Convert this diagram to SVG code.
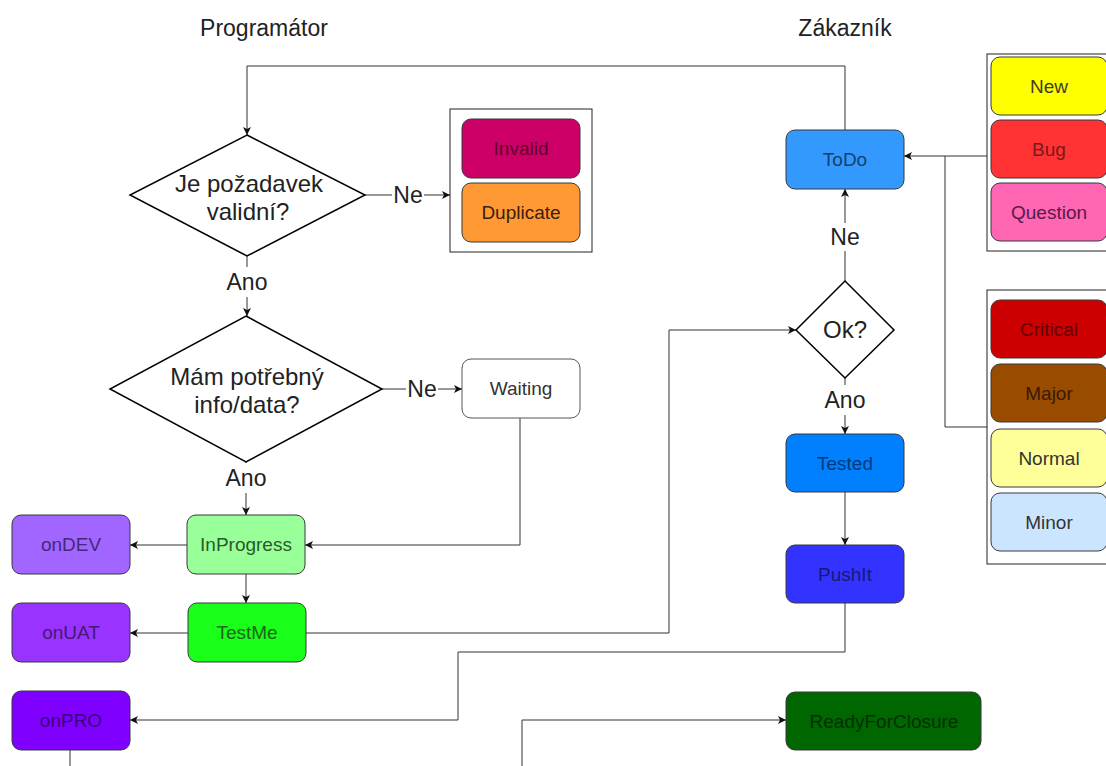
<svg xmlns="http://www.w3.org/2000/svg" width="1106" height="766" viewBox="0 0 1106 766">
  <style>
    .bg { fill: #ffffff; }
    .node { stroke: #36393d; stroke-width: 1; }
    .frame { fill: #ffffff; stroke: #222222; stroke-width: 1; }
    .dia { fill: #ffffff; stroke: #000000; stroke-width: 1.5; }
    .lbl { font-family: "Liberation Sans", Arial, sans-serif; font-size: 19px; text-anchor: middle; dominant-baseline: central; }
    .big { font-family: "Liberation Sans", Arial, sans-serif; font-size: 24px; text-anchor: middle; fill: #222222; }
    .title { font-family: "Liberation Sans", Arial, sans-serif; font-size: 23px; text-anchor: middle; fill: #222222; }
    .edge { fill: none; stroke: #333333; stroke-width: 1; }
    .tag { font-family: "Liberation Sans", Arial, sans-serif; font-size: 23px; text-anchor: middle; fill: #222222; }
  </style>
  <defs>
    <marker id="arrow" markerUnits="userSpaceOnUse" markerWidth="10" markerHeight="10" refX="8" refY="4" orient="auto">
      <path d="M0,0 L8,4 L0,8 L2,4 Z" fill="#111111"/>
    </marker>
  </defs>

  <rect class="bg" x="0" y="0" width="1106" height="766"/>

  <!-- lane titles -->
  <text class="title" x="264" y="36">Programátor</text>
  <text class="title" x="845" y="36">Zákazník</text>

  <!-- connectors -->
  <g id="connectors">
    <polyline class="edge" points="845,130 845,66 247,66 247,135" marker-end="url(#arrow)"/>
    <line class="edge" x1="365" y1="195" x2="450" y2="195" marker-end="url(#arrow)"/>
    <line class="edge" x1="247" y1="256" x2="247" y2="316" marker-end="url(#arrow)"/>
    <line class="edge" x1="382" y1="389" x2="462" y2="389" marker-end="url(#arrow)"/>
    <line class="edge" x1="246" y1="462" x2="246" y2="515" marker-end="url(#arrow)"/>
    <polyline class="edge" points="520,418 520,545 305,545" marker-end="url(#arrow)"/>
    <line class="edge" x1="187" y1="545" x2="130" y2="545" marker-end="url(#arrow)"/>
    <line class="edge" x1="246" y1="574" x2="246" y2="603" marker-end="url(#arrow)"/>
    <line class="edge" x1="188" y1="633" x2="130" y2="633" marker-end="url(#arrow)"/>
    <polyline class="edge" points="305,633 669,633 669,330 796,330" marker-end="url(#arrow)"/>
    <line class="edge" x1="845" y1="281" x2="845" y2="189" marker-end="url(#arrow)"/>
    <line class="edge" x1="845" y1="378" x2="845" y2="434" marker-end="url(#arrow)"/>
    <line class="edge" x1="845" y1="492" x2="845" y2="545" marker-end="url(#arrow)"/>
    <polyline class="edge" points="845,603 845,652 458,652 458,720 130,720" marker-end="url(#arrow)"/>
    <line class="edge" x1="70" y1="750" x2="70" y2="766"/>
    <polyline class="edge" points="522,766 522,720 786,720" marker-end="url(#arrow)"/>
    <polyline class="edge" points="987,156 945,156 945,427 987,427"/>
    <line class="edge" x1="945" y1="156" x2="904" y2="156" marker-end="url(#arrow)"/>
    <!-- edge labels -->
    <rect x="392" y="182" width="32" height="26" fill="#ffffff"/>
    <text class="tag" x="408" y="203">Ne</text>
    <rect x="225" y="267" width="46" height="30" fill="#ffffff"/>
    <text class="tag" x="247" y="290">Ano</text>
    <rect x="406" y="376" width="32" height="26" fill="#ffffff"/>
    <text class="tag" x="422" y="397">Ne</text>
    <rect x="223" y="463" width="46" height="30" fill="#ffffff"/>
    <text class="tag" x="246" y="486">Ano</text>
    <rect x="828" y="223" width="34" height="28" fill="#ffffff"/>
    <text class="tag" x="845" y="245">Ne</text>
    <rect x="822" y="385" width="46" height="30" fill="#ffffff"/>
    <text class="tag" x="845" y="408">Ano</text>
  </g>

  <!-- decision: valid request -->
  <g id="dec-valid">
    <polygon class="dia" points="247,135 365,195 247,256 130,195"/>
    <text class="big" x="249" y="192">Je požadavek</text>
    <text class="big" x="248" y="220">validní?</text>
  </g>

  <!-- rejected states -->
  <g id="rejected">
    <rect class="frame" x="450" y="109" width="142" height="143"/>
    <g id="invalid">
      <rect class="node" x="462" y="119" width="118" height="59" rx="9" fill="#CC0066"/>
      <text class="lbl" x="521" y="148.5" fill="#5e0030">Invalid</text>
    </g>
    <g id="duplicate">
      <rect class="node" x="462" y="183" width="118" height="59" rx="9" fill="#FF9933"/>
      <text class="lbl" x="521" y="212.5" fill="#3a2010">Duplicate</text>
    </g>
  </g>

  <!-- decision: enough info -->
  <g id="dec-info">
    <polygon class="dia" points="246,316 382,389 246,462 110,389"/>
    <text class="big" x="247" y="385">Mám potřebný</text>
    <text class="big" x="247" y="413">info/data?</text>
  </g>

  <g id="waiting">
    <rect x="462" y="359" width="118" height="59" rx="9" fill="#ffffff" stroke="#555555" stroke-width="1"/>
    <text class="lbl" x="521" y="388.5" fill="#333333">Waiting</text>
  </g>

  <g id="inprogress">
    <rect class="node" x="187" y="515" width="118" height="59" rx="9" fill="#99FF99"/>
    <text class="lbl" x="246" y="544.5" fill="#2a5a2a">InProgress</text>
  </g>
  <g id="ondev">
    <rect class="node" x="12" y="515" width="118" height="59" rx="9" fill="#A066FF"/>
    <text class="lbl" x="71" y="544.5" fill="#452878">onDEV</text>
  </g>
  <g id="testme">
    <rect class="node" x="188" y="603" width="118" height="59" rx="9" fill="#1AFF1A"/>
    <text class="lbl" x="247" y="632.5" fill="#1a661a">TestMe</text>
  </g>
  <g id="onuat">
    <rect class="node" x="12" y="603" width="118" height="59" rx="9" fill="#9933FF"/>
    <text class="lbl" x="71" y="632.5" fill="#451878">onUAT</text>
  </g>
  <g id="onpro">
    <rect class="node" x="12" y="691" width="118" height="59" rx="9" fill="#7F00FF"/>
    <text class="lbl" x="71" y="720.5" fill="#3a0078">onPRO</text>
  </g>

  <g id="todo">
    <rect class="node" x="786" y="130" width="118" height="59" rx="9" fill="#3399FF"/>
    <text class="lbl" x="845" y="159.5" fill="#15406b">ToDo</text>
  </g>

  <g id="dec-ok">
    <polygon class="dia" points="845,281 894,330 845,378 796,330"/>
    <text class="big" x="845" y="338">Ok?</text>
  </g>

  <g id="tested">
    <rect class="node" x="786" y="434" width="118" height="58" rx="9" fill="#007FFF"/>
    <text class="lbl" x="845" y="463" fill="#003a78">Tested</text>
  </g>
  <g id="pushit">
    <rect class="node" x="786" y="545" width="118" height="58" rx="9" fill="#3333FF"/>
    <text class="lbl" x="845" y="574" fill="#181878">PushIt</text>
  </g>
  <g id="readyforclosure">
    <rect class="node" x="786" y="692" width="195" height="58" rx="9" fill="#006600"/>
    <text class="lbl" x="884" y="721" fill="#003000">ReadyForClosure</text>
  </g>

  <!-- request types -->
  <g id="types">
    <rect class="frame" x="987" y="54" width="125" height="197"/>
    <g id="new">
      <rect class="node" x="991" y="57" width="116" height="58" rx="9" fill="#FFFF00"/>
      <text class="lbl" x="1049" y="86" fill="#3d3d1f">New</text>
    </g>
    <g id="bug">
      <rect class="node" x="991" y="120" width="116" height="58" rx="9" fill="#FF3333"/>
      <text class="lbl" x="1049" y="149" fill="#7a1a1a">Bug</text>
    </g>
    <g id="question">
      <rect class="node" x="991" y="183" width="116" height="58" rx="9" fill="#FF66B3"/>
      <text class="lbl" x="1049" y="212" fill="#581a48">Question</text>
    </g>
  </g>

  <!-- priorities -->
  <g id="priorities">
    <rect class="frame" x="987" y="290" width="125" height="274"/>
    <g id="critical">
      <rect class="node" x="991" y="300" width="116" height="58" rx="9" fill="#CC0000"/>
      <text class="lbl" x="1049" y="329" fill="#600000">Critical</text>
    </g>
    <g id="major">
      <rect class="node" x="991" y="364" width="116" height="58" rx="9" fill="#994C00"/>
      <text class="lbl" x="1049" y="393" fill="#3a1a00">Major</text>
    </g>
    <g id="normal">
      <rect class="node" x="991" y="429" width="116" height="58" rx="9" fill="#FFFF99"/>
      <text class="lbl" x="1049" y="458" fill="#333333">Normal</text>
    </g>
    <g id="minor">
      <rect class="node" x="991" y="493" width="116" height="58" rx="9" fill="#CCE5FF"/>
      <text class="lbl" x="1049" y="522" fill="#333333">Minor</text>
    </g>
  </g>
</svg>
